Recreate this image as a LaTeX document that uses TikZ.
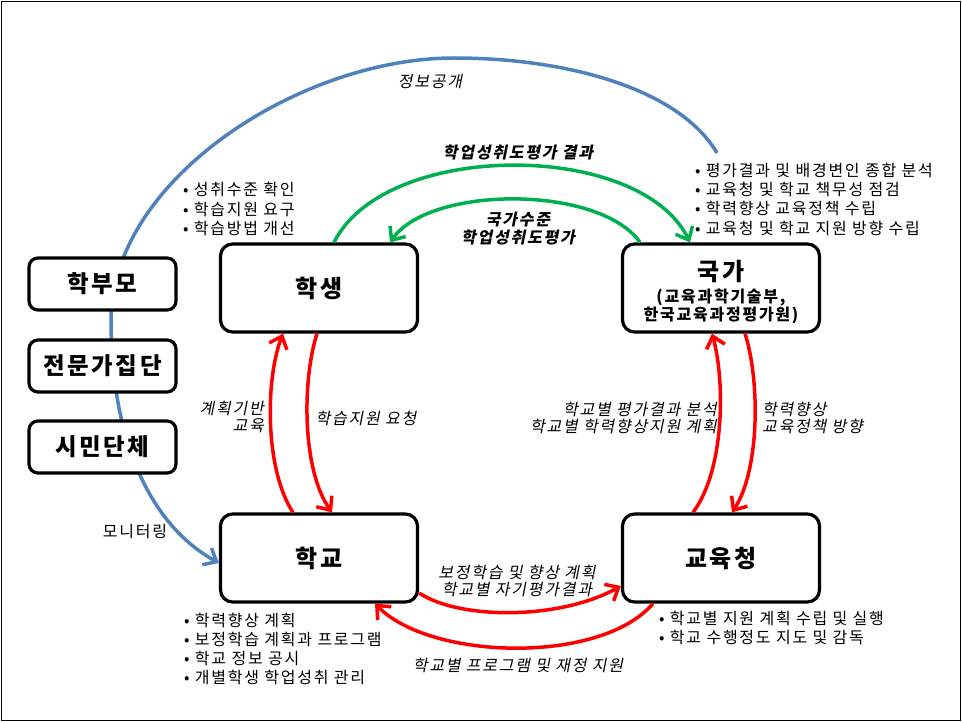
\documentclass[tikz,border=0pt]{standalone}
\usepackage{fontspec}
\setmainfont[LetterSpace=11]{Noto Sans CJK KR}
\newfontfamily\krit[LetterSpace=11,FakeSlant=0.2,BoldFeatures={FakeSlant=0.2}]{Noto Sans CJK KR}
\usetikzlibrary{arrows.meta}

\definecolor{infoblue}{RGB}{79,129,189}
\definecolor{evalgreen}{RGB}{0,176,80}

\begin{document}
\begin{tikzpicture}[
        x=1pt,y=-1pt,
        box/.style={draw,line width=3.2pt,rounded corners=12pt,fill=white,minimum width=197pt,minimum height=88pt,font=\bfseries\fontsize{24}{28}\selectfont},
        sidebox/.style={draw,line width=3.2pt,rounded corners=9pt,fill=white,minimum width=147pt,minimum height=52pt,font=\bfseries\fontsize{23.5}{28}\selectfont},
        bullets/.style={anchor=west,align=left,inner sep=0pt,font=\fontsize{16}{19.3}\selectfont},
        lbl/.style={inner sep=0pt,font=\krit\fontsize{16}{17.5}\selectfont},
        boldlbl/.style={inner sep=0pt,font=\krit\bfseries\fontsize{16}{18}\selectfont},
        flow/.style={line width=3.5pt,-{Straight Barb[length=11pt,width=19pt]}}
      ]
      \useasboundingbox (0,0) rectangle (962,722);
      \draw[line width=1.2pt] (1.5,1.5) rectangle (960.5,720.5);

      % main boxes
      \node[box] (student) at (319,288) {학생};
      \node[box] (nation) at (721,288) {};
      \node[font=\bfseries\fontsize{24}{28}\selectfont] (nationtitle) at ([yshift=16pt]nation.center) {국가};
      \node[font=\bfseries\fontsize{16}{18}\selectfont,align=center] (nationsub) at ([yshift=-18pt]nation.center) {(교육과학기술부,\\한국교육과정평가원)};
      \node[box] (school) at (319,558) {학교};
      \node[box] (office) at (721,558) {교육청};

      % information disclosure, behind the side boxes
      \coordinate (infostart) at (717,153);
      \draw[flow,infoblue] (infostart) .. controls (680,90) and (570,58) .. (454,58)
        .. controls (300,58) and (111,180) .. (111,320)
        .. controls (111,440) and (150,525) .. ([yshift=-5pt]school.west);
      \node[lbl] (infolbl) at (430,82) {정보공개};
      \node[font=\fontsize{16}{18}\selectfont] (monitorlbl) at (135,532) {모니터링};

      % side boxes
      \node[sidebox] (parents) at (102.5,284) {학부모};
      \node[sidebox] (experts) at (102.5,366) {전문가집단};
      \node[sidebox] (civic) at (102.5,447) {시민단체};

      % national assessment
      \draw[flow,evalgreen] ([xshift=15pt]student.north) .. controls (385,140) and (640,140) .. ([xshift=-31pt]nation.north);
      \draw[flow,evalgreen] ([xshift=-81pt]nation.north) .. controls (600,185) and (430,185) .. ([xshift=71pt]student.north);
      \node[boldlbl] (resultlbl) at (518,152) {학업성취도평가 결과};
      \node[boldlbl,align=center] (assesslbl) at (518,229) {국가수준\\학업성취도평가};

      % student and school
      \draw[flow,red] ([xshift=-26pt]school.north) .. controls (265,470) and (265,380) .. ([xshift=-36pt]student.south);
      \draw[flow,red] ([xshift=-2pt]student.south) .. controls (302,380) and (302,470) .. ([xshift=13pt]school.north);
      \node[lbl,align=right,anchor=east] (planlbl) at (264,417) {계획기반\\교육};
      \node[lbl] (requestlbl) at (366,418) {학습지원 요청};

      % office and nation
      \draw[flow,red] ([xshift=-28pt]office.north) .. controls (725,470) and (725,380) .. ([xshift=-9pt]nation.south);
      \draw[flow,red] ([xshift=24pt]nation.south) .. controls (760,380) and (760,470) .. ([xshift=11pt]office.north);
      \node[lbl,align=right,anchor=east] (analysislbl) at (717,418) {학교별 평가결과 분석\\학교별 학력향상지원 계획};
      \node[lbl,align=left,anchor=west] (policylbl) at (762,418) {학력향상\\교육정책 방향};

      % school and office
      \draw[flow,red] ([yshift=-35pt]school.east) .. controls (460,620) and (560,620) .. ([yshift=-28pt]office.west);
      \draw[flow,red] ([xshift=-68pt]office.south) .. controls (600,665) and (430,660) .. ([xshift=56pt]school.south);
      \node[lbl,align=center] (remedylbl) at (517,581) {보정학습 및 향상 계획\\학교별 자기평가결과};
      \node[lbl] (fundlbl) at (518,665) {학교별 프로그램 및 재정 지원};

      % bullet lists
      \node[bullets] (studentlist) at (183,209) {• 성취수준 확인\\• 학습지원 요구\\• 학습방법 개선};
      \node[bullets] (nationlist) at (695,199) {• 평가결과 및 배경변인 종합 분석\\• 교육청 및 학교 책무성 점검\\• 학력향상 교육정책 수립\\• 교육청 및 학교 지원 방향 수립};
      \node[bullets] (schoollist) at (184,649) {• 학력향상 계획\\• 보정학습 계획과 프로그램\\• 학교 정보 공시\\• 개별학생 학업성취 관리};
      \node[bullets] (officelist) at (659,628) {• 학교별 지원 계획 수립 및 실행\\• 학교 수행정도 지도 및 감독};
    \end{tikzpicture}
\end{document}
